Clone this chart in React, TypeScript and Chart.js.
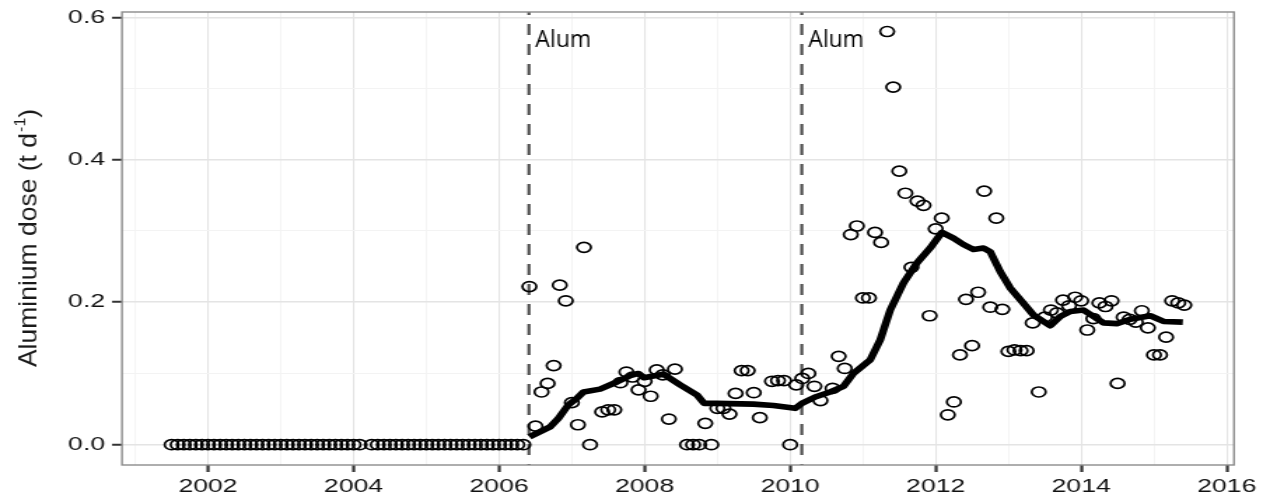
import React, { useEffect, useRef } from 'react';
import { Chart, registerables } from 'chart.js';

Chart.register(...registerables);

// ---------- data (monthly aluminium dose, t/d) ----------
// Jul–Dec 2001
const dose2001 = [0, 0, 0, 0, 0, 0];
const dose2002 = [0, 0, 0, 0, 0, 0, 0, 0, 0, 0, 0, 0];
const dose2003 = [0, 0, 0, 0, 0, 0, 0, 0, 0, 0, 0, 0];
const dose2004 = [0, 0, null, 0, 0, 0, 0, 0, 0, 0, 0, 0];
const dose2005 = [0, 0, 0, 0, 0, 0, 0, 0, 0, 0, 0, 0];
const dose2006 = [0, 0, 0, 0, 0, 0.222, 0.026, 0.074, 0.086, 0.111, 0.224, 0.202];
const dose2007 = [0.059, 0.028, 0.277, 0, null, 0.046, 0.049, 0.049, 0.087, 0.102, 0.095, 0.077];
const dose2008 = [0.089, 0.068, 0.105, 0.098, 0.036, 0.106, null, 0, 0, 0, 0.03, 0];
const dose2009 = [0.051, 0.051, 0.043, 0.072, 0.104, 0.104, 0.073, 0.038, null, 0.089, 0.09, 0.09];
const dose2010 = [0, 0.084, 0.093, 0.1, 0.082, 0.062, null, 0.079, 0.124, 0.107, 0.295, 0.307];
const dose2011 = [0.206, 0.206, 0.298, 0.284, 0.58, 0.502, 0.384, 0.353, 0.249, 0.342, 0.336, 0.181];
const dose2012 = [0.303, 0.318, 0.042, 0.06, 0.126, 0.204, 0.139, 0.214, 0.356, 0.193, 0.318, 0.19];
const dose2013 = [0.131, 0.133, 0.132, 0.132, 0.171, 0.074, 0.179, 0.189, 0.185, 0.203, 0.195, 0.207];
const dose2014 = [0.202, 0.161, 0.177, 0.199, 0.194, 0.202, 0.086, 0.179, 0.176, 0.172, 0.188, 0.164];
// Jan–Jun 2015
const dose2015 = [0.126, 0.126, 0.151, 0.202, 0.199, 0.196];

const doseSeries: [number, number, (number | null)[]][] = [
  [2001, 7, dose2001], [2002, 1, dose2002], [2003, 1, dose2003], [2004, 1, dose2004],
  [2005, 1, dose2005], [2006, 1, dose2006], [2007, 1, dose2007], [2008, 1, dose2008],
  [2009, 1, dose2009], [2010, 1, dose2010], [2011, 1, dose2011], [2012, 1, dose2012],
  [2013, 1, dose2013], [2014, 1, dose2014], [2015, 1, dose2015],
];

// smoothed trend (decimal year, dose)
const trendYears = [
  2006.417, 2006.701, 2006.815, 2006.953, 2007.068, 2007.159, 2007.388, 2007.618, 2007.801, 2007.915,
  2007.993, 2008.099, 2008.258, 2008.488, 2008.717, 2008.818, 2008.992, 2009.495, 2009.77, 2010.069,
  2010.161, 2010.344, 2010.55, 2010.733, 2010.87, 2011.1, 2011.237, 2011.375, 2011.557, 2011.742,
  2011.924, 2012.085, 2012.244, 2012.381, 2012.519, 2012.656, 2012.749, 2012.887, 2013.024, 2013.185,
  2013.344, 2013.574, 2013.711, 2013.849, 2014.032, 2014.169, 2014.307, 2014.491, 2014.674, 2014.949,
  2015.131, 2015.397,
];
const trendDose = [
  0.011, 0.025, 0.037, 0.056, 0.065, 0.074, 0.078, 0.088, 0.097, 0.1,
  0.094, 0.096, 0.099, 0.084, 0.07, 0.058, 0.058, 0.057, 0.055, 0.051,
  0.058, 0.067, 0.074, 0.082, 0.1, 0.119, 0.147, 0.189, 0.227, 0.255,
  0.276, 0.298, 0.29, 0.281, 0.274, 0.276, 0.271, 0.243, 0.22, 0.201,
  0.182, 0.167, 0.18, 0.187, 0.189, 0.18, 0.171, 0.17, 0.176, 0.181,
  0.173, 0.172,
];

const alumYears = [2006.41, 2010.16];
const alumLabel = 'Alum';
const xTickYears = [2002, 2004, 2006, 2008, 2010, 2012, 2014, 2016];
const yTickValues = [0, 0.2, 0.4, 0.6];
const yTitleMain = 'Aluminium dose (t d';
const yTitleSup = '-1';
const yTitleEnd = ')';

// ---------- geometry ----------
const W = 907;
const H = 497;
const S = 1270 / W; // horizontal stretch of the whole picture

const isMajorX = (v: number) => xTickYears.some((t) => Math.abs(t - v) < 1e-6);
const isMajorY = (v: number) => yTickValues.some((t) => Math.abs(t - v) < 1e-6);

const decorations = {
  id: 'decorations',
  beforeDatasetsDraw(chart: any) {
    const { ctx, chartArea: a, scales } = chart;
    ctx.save();
    ctx.strokeStyle = '#505050';
    ctx.lineWidth = 2.2;
    ctx.setLineDash([11, 9]);
    ctx.lineDashOffset = 8;
    alumYears.forEach((yr) => {
      const px = scales.x.getPixelForValue(yr);
      ctx.beginPath();
      ctx.moveTo(px, a.top);
      ctx.lineTo(px, a.bottom);
      ctx.stroke();
    });
    ctx.restore();
  },
  afterDraw(chart: any) {
    const { ctx, chartArea: a, scales } = chart;
    // panel border
    ctx.save();
    ctx.strokeStyle = '#8c8c8c';
    ctx.lineWidth = 1.4;
    ctx.strokeRect(a.left, a.top, a.right - a.left, a.bottom - a.top);
    ctx.restore();

    // "Alum" annotations (not stretched)
    ctx.save();
    ctx.scale(1 / S, 1);
    ctx.font = '23px "Open Sans"';
    ctx.fillStyle = '#000';
    ctx.textBaseline = 'alphabetic';
    alumYears.forEach((yr) => {
      const fx = scales.x.getPixelForValue(yr) * S;
      ctx.fillText(alumLabel, fx + 6.5, 46.5);
    });
    ctx.restore();

    // y-axis title
    ctx.save();
    ctx.scale(1 / S, 1);
    ctx.translate(28, 238);
    ctx.rotate(-Math.PI / 2);
    ctx.fillStyle = '#1a1a1a';
    ctx.textBaseline = 'alphabetic';
    const bigFont = '26.5px "Liberation Sans"';
    const smallFont = '16px "Liberation Sans"';
    ctx.font = bigFont;
    const wMain = ctx.measureText(yTitleMain).width;
    const wEnd = ctx.measureText(yTitleEnd).width;
    ctx.font = smallFont;
    const wSup = ctx.measureText(yTitleSup).width;
    const total = wMain + wSup + wEnd + 1;
    let u = -total / 2;
    const base = 8;
    ctx.font = bigFont;
    ctx.fillText(yTitleMain, u, base);
    u += wMain + 1;
    ctx.font = smallFont;
    ctx.fillText(yTitleSup, u, base - 10.5);
    u += wSup;
    ctx.font = bigFont;
    ctx.fillText(yTitleEnd, u, base);
    ctx.restore();
  },
};

export default function App() {
  const ref = useRef<HTMLCanvasElement>(null);

  useEffect(() => {
    const canvas = ref.current;
    if (!canvas) return;

    const points: { x: number; y: number | null }[] = [];
    doseSeries.forEach(([year, startMonth, values]) => {
      values.forEach((v, i) => {
        points.push({ x: year + (startMonth - 1 + i) / 12, y: v });
      });
    });
    const trend = trendYears.map((x, i) => ({ x, y: trendDose[i] }));

    Chart.defaults.font.family = '"Liberation Sans", Arial, sans-serif';

    const chart = new Chart(canvas, {
      type: 'scatter',
      data: {
        datasets: [
          {
            label: 'trend',
            data: trend,
            showLine: true,
            borderColor: '#000',
            borderWidth: 5.6,
            borderJoinStyle: 'round',
            pointRadius: 0,
            tension: 0,
          } as any,
          {
            label: 'dose',
            data: points as any,
            pointStyle: 'circle',
            pointRadius: 5.0,
            pointBorderWidth: 1.7,
            pointBackgroundColor: 'rgba(0,0,0,0)',
            pointBorderColor: '#000',
            showLine: false,
          } as any,
        ],
      },
      options: {
        responsive: false,
        animation: false,
        events: [],
        layout: { padding: { left: 0, right: W - 1234 / S, top: 12, bottom: 0 } },
        plugins: {
          legend: { display: false },
          tooltip: { enabled: false },
          title: { display: false },
        },
        scales: {
          x: {
            type: 'linear',
            min: 2000.818,
            max: 2016.1,
            border: { display: false },
            grid: {
              color: (c: any) => (isMajorX(c.tick?.value) ? '#e4e4e4' : '#f3f3f3'),
              lineWidth: (c: any) => (isMajorX(c.tick?.value) ? 1.1 : 0.9),
              tickColor: (c: any) => (isMajorX(c.tick?.value) ? '#333333' : 'rgba(0,0,0,0)'),
              tickLength: 7,
              tickWidth: 2.2,
              drawTicks: true,
            },
            ticks: {
              stepSize: 1,
              maxTicksLimit: 100,
              includeBounds: false,
              autoSkip: false,
              maxRotation: 0,
              minRotation: 0,
              padding: 3,
              color: '#111111',
              font: { size: 19 },
              callback: (v: any) => (isMajorX(Number(v)) ? String(Math.round(Number(v))) : ''),
            },
            afterFit: (s: any) => {
              s.height = 32;
              s.paddingLeft = 0;
              s.paddingRight = 0;
            },
          },
          y: {
            type: 'linear',
            min: -0.0285,
            max: 0.6074,
            border: { display: false },
            grid: {
              color: (c: any) => (isMajorY(c.tick?.value) ? '#e4e4e4' : '#f3f3f3'),
              lineWidth: (c: any) => (isMajorY(c.tick?.value) ? 1.5 : 1.1),
              tickColor: (c: any) => (isMajorY(c.tick?.value) ? '#333333' : 'rgba(0,0,0,0)'),
              tickLength: 7.1,
              tickWidth: 2,
              drawTicks: true,
            },
            ticks: {
              stepSize: 0.1,
              maxTicksLimit: 100,
              includeBounds: false,
              autoSkip: false,
              padding: 5,
              color: '#111111',
              font: { size: 19 },
              callback: (v: any) => (isMajorY(Number(v)) ? Number(v).toFixed(1) : ''),
            },
            afterFit: (s: any) => {
              s.width = 122 / S;
              s.paddingTop = 0;
              s.paddingBottom = 0;
            },
          },
        },
      },
      plugins: [decorations],
    });

    return () => chart.destroy();
  }, []);

  return (
    <div
      style={{
        position: 'fixed',
        left: 0,
        top: 0,
        width: 1270,
        height: 497,
        overflow: 'hidden',
        background: '#ffffff',
      }}
    >
      <canvas
        ref={ref}
        width={W}
        height={H}
        style={{
          display: 'block',
          width: W + 'px',
          height: H + 'px',
          transform: `scaleX(${S})`,
          transformOrigin: '0 0',
        }}
      />
    </div>
  );
}
